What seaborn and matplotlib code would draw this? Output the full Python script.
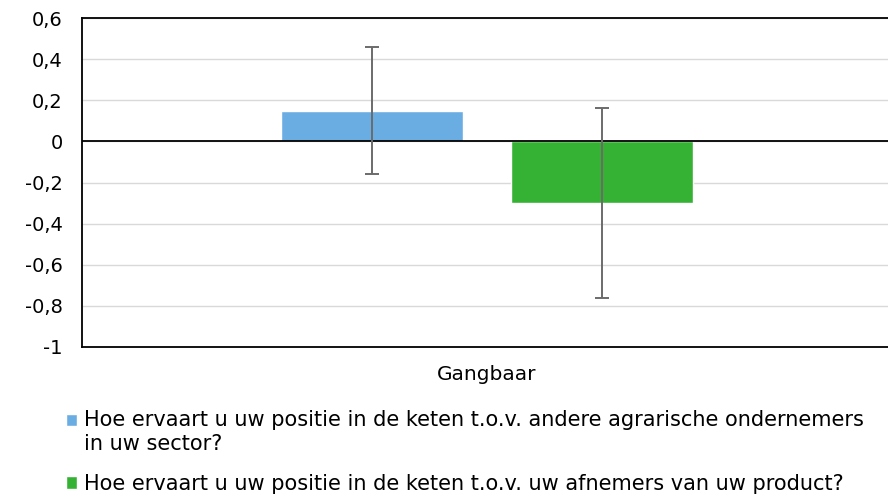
import matplotlib
matplotlib.use("Agg")
import matplotlib.pyplot as plt
import seaborn as sns
import pandas as pd
from matplotlib.ticker import FuncFormatter, MultipleLocator

categories = ["Gangbaar"]
series = [
    "Hoe ervaart u uw positie in de keten t.o.v. andere agrarische ondernemers\nin uw sector?",
    "Hoe ervaart u uw positie in de keten t.o.v. uw afnemers van uw product?",
]
values = [0.15, -0.30]
errors = [0.31, 0.46]
colors = ["#6AADE3", "#35B234"]

df = pd.DataFrame({"cat": categories * len(series), "series": series, "val": values})

sns.set_style("white")
plt.rcParams["font.family"] = ["DejaVu Sans"]
plt.rcParams["text.color"] = "black"

fig = plt.figure(figsize=(8.88, 4.96), dpi=100)
ax = fig.add_axes([82 / 888, 1 - 347 / 496, (892 - 82) / 888, (347 - 18) / 496])

sns.barplot(data=df, x="cat", y="val", hue="series", palette=colors,
            width=0.568, gap=0.21, errorbar=None, ax=ax, saturation=1, legend=True)

# error bars centred on each bar
bars = [p for p in ax.patches if p.get_width() > 0][: len(values)]
for p, v, e in zip(bars, values, errors):
    ax.errorbar(p.get_x() + p.get_width() / 2, v, yerr=e, fmt="none",
                ecolor="#6B6B6B", elinewidth=1.4, capsize=5, capthick=1.4, zorder=5)

ax.set_ylim(-1, 0.6)
ax.set_xlim(-0.5, 0.5)
ax.yaxis.set_major_locator(MultipleLocator(0.2))
ax.yaxis.set_major_formatter(FuncFormatter(
    lambda v, _: ("%g" % round(v, 2)).replace(".", ",")))
ax.grid(axis="y", color="#D9D9D9", linewidth=1.0)
ax.set_axisbelow(True)
ax.axhline(0, color="black", linewidth=1.3, zorder=4)
for s in ["left", "top", "bottom"]:
    ax.spines[s].set_color("black")
    ax.spines[s].set_linewidth(1.3)
ax.spines["right"].set_visible(False)
ax.tick_params(axis="both", length=0, colors="black")
ax.tick_params(axis="y", pad=14, labelsize=14)
ax.tick_params(axis="x", pad=13, labelsize=14.5)
ax.set_xlabel("")
ax.set_ylabel("")

handles, labels = ax.get_legend_handles_labels()
ax.get_legend().remove()
leg = fig.legend(handles, labels, loc="upper left", bbox_to_anchor=(66 / 888, 1 - 410 / 496),
                 frameon=False, fontsize=15, handlelength=0.55, handleheight=0.55,
                 handletextpad=0.3, labelspacing=0.95, borderaxespad=0, borderpad=0,
                 labelcolor="black")
for t in leg.get_texts():
    t.set_linespacing(1.25)
# align the first marker with the first text line of its wrapped label
h0 = leg.legend_handles[0]
h0.set_y(h0.get_y() + 9)

fig.savefig("out.png", dpi=100)
